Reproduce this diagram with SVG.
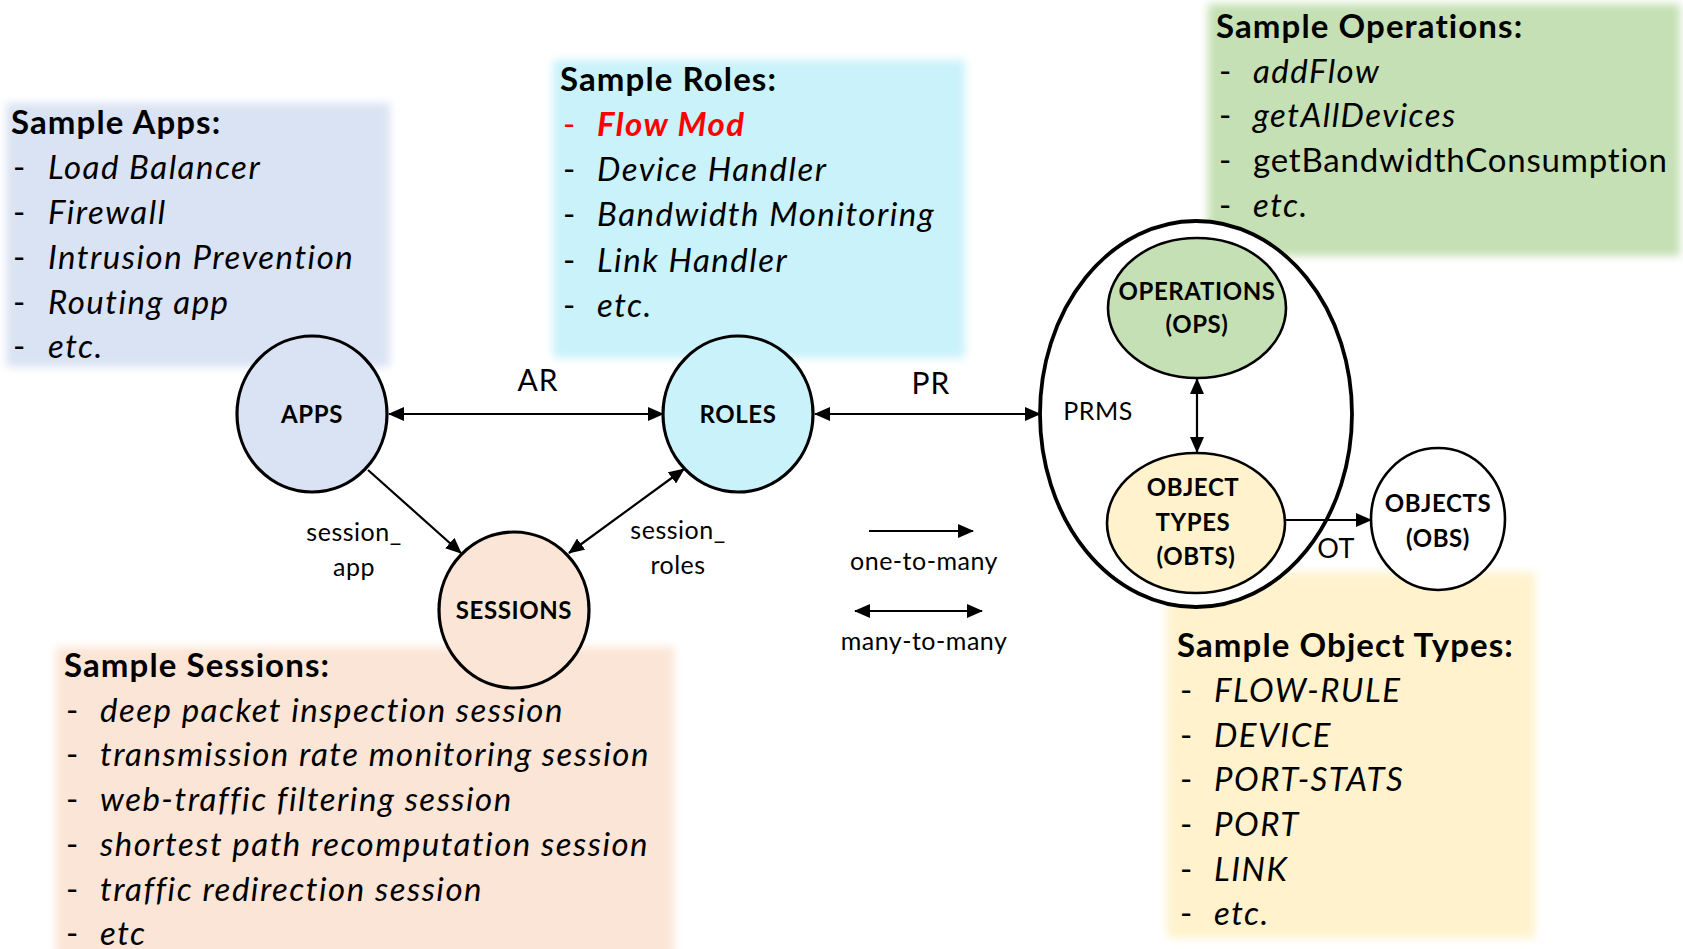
<svg xmlns="http://www.w3.org/2000/svg" width="1683" height="949" viewBox="0 0 1683 949">
<defs>
<filter id="soft" x="-5%" y="-5%" width="110%" height="110%"><feGaussianBlur stdDeviation="4"/></filter>
<marker id="ah" markerWidth="16" markerHeight="14" refX="15" refY="7" orient="auto-start-reverse" markerUnits="userSpaceOnUse"><path d="M0,0 L16,7 L0,14 z" fill="#000"/></marker>
</defs>
<style>
text{font-family:Lato,"Open Sans","Liberation Sans",sans-serif;fill:#000}
.title{font-size:33px;font-weight:bold;letter-spacing:1.1px}
.item{font-size:33px;font-style:italic;letter-spacing:1.5px}
.plain{font-size:33px;letter-spacing:0.8px}
.node{font-size:24px;font-weight:bold;text-anchor:middle;letter-spacing:0.6px}
.lab{font-size:25px;text-anchor:middle;letter-spacing:0.5px}
.big{font-size:30px;text-anchor:middle;letter-spacing:1px}
.conn line{stroke:#000;stroke-width:2.2;fill:none}
.circ{stroke:#000;stroke-width:3.2}
</style>
<rect width="1683" height="949" fill="#fff"/>

<g id="box-apps">
<rect x="6" y="103" width="384" height="264" fill="#DAE3F3" filter="url(#soft)"/>
<text class="title" x="11" y="134">Sample Apps:</text>
<text class="plain" x="13" y="179">-</text><text class="item" x="48" y="179">Load Balancer</text>
<text class="plain" x="13" y="224">-</text><text class="item" x="48" y="224">Firewall</text>
<text class="plain" x="13" y="269">-</text><text class="item" x="48" y="269">Intrusion Prevention</text>
<text class="plain" x="13" y="314">-</text><text class="item" x="48" y="314">Routing app</text>
<text class="plain" x="13" y="358">-</text><text class="item" x="48" y="358">etc.</text>
</g>

<g id="box-roles">
<rect x="553" y="60" width="412" height="298" fill="#C9F2FB" filter="url(#soft)"/>
<text class="title" x="560" y="91">Sample Roles:</text>
<text class="plain" x="563" y="136" style="fill:#FF0000">-</text><text class="item" x="597" y="136" style="fill:#FF0000;font-weight:bold">Flow Mod</text>
<text class="plain" x="563" y="181">-</text><text class="item" x="597" y="181">Device Handler</text>
<text class="plain" x="563" y="226">-</text><text class="item" x="597" y="226">Bandwidth Monitoring</text>
<text class="plain" x="563" y="272">-</text><text class="item" x="597" y="272">Link Handler</text>
<text class="plain" x="563" y="317">-</text><text class="item" x="597" y="317">etc.</text>
</g>

<g id="box-ops">
<rect x="1208" y="4" width="472" height="252" fill="#C5E0B4" filter="url(#soft)"/>
<text class="title" x="1216" y="38">Sample Operations:</text>
<text class="plain" x="1219" y="83">-</text><text class="item" x="1253" y="83">addFlow</text>
<text class="plain" x="1219" y="127">-</text><text class="item" x="1253" y="127">getAllDevices</text>
<text class="plain" x="1219" y="172">-</text><text class="plain" x="1253" y="172">getBandwidthConsumption</text>
<text class="plain" x="1219" y="217">-</text><text class="item" x="1253" y="217">etc.</text>
</g>

<g id="box-sessions">
<rect x="56" y="647" width="618" height="310" fill="#FBE5D6" filter="url(#soft)"/>
<text class="title" x="64" y="677">Sample Sessions:</text>
<text class="plain" x="66" y="722">-</text><text class="item" x="100" y="722">deep packet inspection session</text>
<text class="plain" x="66" y="766">-</text><text class="item" x="100" y="766">transmission rate monitoring session</text>
<text class="plain" x="66" y="811">-</text><text class="item" x="100" y="811">web-traffic filtering session</text>
<text class="plain" x="66" y="856">-</text><text class="item" x="100" y="856">shortest path recomputation session</text>
<text class="plain" x="66" y="901">-</text><text class="item" x="100" y="901">traffic redirection session</text>
<text class="plain" x="66" y="945">-</text><text class="item" x="100" y="945">etc</text>
</g>

<g id="box-obts">
<rect x="1167" y="572" width="368" height="366" fill="#FFF2CC" filter="url(#soft)"/>
<text class="title" x="1177" y="657">Sample Object Types:</text>
<text class="plain" x="1180" y="702">-</text><text class="item" x="1214" y="702">FLOW-RULE</text>
<text class="plain" x="1180" y="747">-</text><text class="item" x="1214" y="747">DEVICE</text>
<text class="plain" x="1180" y="791">-</text><text class="item" x="1214" y="791">PORT-STATS</text>
<text class="plain" x="1180" y="836">-</text><text class="item" x="1214" y="836">PORT</text>
<text class="plain" x="1180" y="881">-</text><text class="item" x="1214" y="881">LINK</text>
<text class="plain" x="1180" y="925">-</text><text class="item" x="1214" y="925">etc.</text>
</g>

<g id="prms">
<ellipse cx="1196" cy="414" rx="156" ry="193" fill="#fff" stroke="#000" stroke-width="3.8"/>
<text class="lab" x="1098" y="420">PRMS</text>
</g>

<g id="apps">
<ellipse class="circ" cx="312" cy="414" rx="75" ry="78" fill="#DAE3F3"/>
<text class="node" x="312" y="423">APPS</text>
</g>
<g id="roles">
<ellipse class="circ" cx="738" cy="414" rx="75" ry="78" fill="#C9F2FB"/>
<text class="node" x="738" y="423">ROLES</text>
</g>
<g id="sessions">
<ellipse class="circ" cx="514" cy="610" rx="75" ry="78" fill="#FBE5D6"/>
<text class="node" x="514" y="619">SESSIONS</text>
</g>
<g id="ops">
<ellipse class="circ" cx="1197" cy="308" rx="89" ry="70" fill="#C5E0B4" style="stroke-width:2.6"/>
<text class="node" x="1197" y="300">OPERATIONS</text>
<text class="node" x="1197" y="333">(OPS)</text>
</g>
<g id="obts">
<ellipse class="circ" cx="1196" cy="523" rx="89" ry="70" fill="#FFF2CC" style="stroke-width:2.6"/>
<text class="node" x="1193" y="496">OBJECT</text>
<text class="node" x="1193" y="531">TYPES</text>
<text class="node" x="1196" y="565">(OBTS)</text>
</g>
<g id="objects">
<ellipse class="circ" cx="1438" cy="519" rx="67" ry="71" fill="#fff" style="stroke-width:2.6"/>
<text class="node" x="1438" y="512">OBJECTS</text>
<text class="node" x="1438" y="547">(OBS)</text>
</g>

<g id="connectors" class="conn">
<line x1="389" y1="414" x2="663" y2="414" marker-start="url(#ah)" marker-end="url(#ah)"/>
<line x1="815" y1="414" x2="1040" y2="414" marker-start="url(#ah)" marker-end="url(#ah)"/>
<line x1="1197" y1="379" x2="1197" y2="452" marker-start="url(#ah)" marker-end="url(#ah)"/>
<line x1="368" y1="470" x2="461" y2="553" marker-end="url(#ah)"/>
<line x1="684" y1="469" x2="569" y2="553" marker-start="url(#ah)" marker-end="url(#ah)"/>
<line x1="1286" y1="520" x2="1371" y2="520" marker-end="url(#ah)"/>
<line x1="869" y1="531" x2="973" y2="531" marker-end="url(#ah)"/>
<line x1="855" y1="611" x2="982" y2="611" marker-start="url(#ah)" marker-end="url(#ah)"/>
</g>
<g id="connector-labels">
<text class="big" x="538" y="391">AR</text>
<text class="big" x="931" y="394">PR</text>
<text class="lab" x="354" y="541">session_</text>
<text class="lab" x="354" y="576">app</text>
<text class="lab" x="678" y="539">session_</text>
<text class="lab" x="678" y="574">roles</text>
<text class="lab" x="1336" y="558" style="font-size:27px">OT</text>
<text class="lab" x="924" y="570">one-to-many</text>
<text class="lab" x="924" y="650">many-to-many</text>
</g>
</svg>
